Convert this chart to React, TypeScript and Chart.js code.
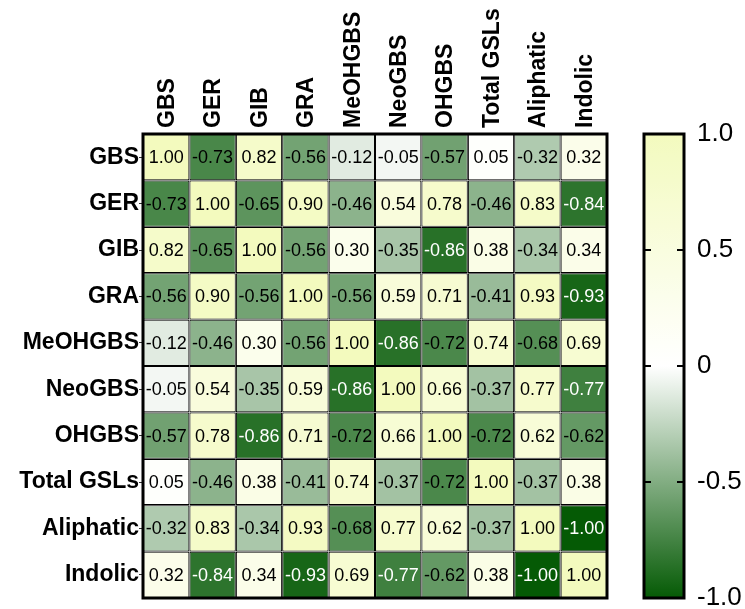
import React, { useEffect, useRef } from "react";
import { Chart, registerables } from "chart.js";

Chart.register(...registerables);

const variables = ["GBS", "GER", "GIB", "GRA", "MeOHGBS", "NeoGBS", "OHGBS", "Total GSLs", "Aliphatic", "Indolic"];

const rowGBS = [1.0, -0.73, 0.82, -0.56, -0.12, -0.05, -0.57, 0.05, -0.32, 0.32];
const rowGER = [-0.73, 1.0, -0.65, 0.9, -0.46, 0.54, 0.78, -0.46, 0.83, -0.84];
const rowGIB = [0.82, -0.65, 1.0, -0.56, 0.3, -0.35, -0.86, 0.38, -0.34, 0.34];
const rowGRA = [-0.56, 0.9, -0.56, 1.0, -0.56, 0.59, 0.71, -0.41, 0.93, -0.93];
const rowMeOHGBS = [-0.12, -0.46, 0.3, -0.56, 1.0, -0.86, -0.72, 0.74, -0.68, 0.69];
const rowNeoGBS = [-0.05, 0.54, -0.35, 0.59, -0.86, 1.0, 0.66, -0.37, 0.77, -0.77];
const rowOHGBS = [-0.57, 0.78, -0.86, 0.71, -0.72, 0.66, 1.0, -0.72, 0.62, -0.62];
const rowTotal = [0.05, -0.46, 0.38, -0.41, 0.74, -0.37, -0.72, 1.0, -0.37, 0.38];
const rowAliphatic = [-0.32, 0.83, -0.34, 0.93, -0.68, 0.77, 0.62, -0.37, 1.0, -1.0];
const rowIndolic = [0.32, -0.84, 0.34, -0.93, 0.69, -0.77, -0.62, 0.38, -1.0, 1.0];

const matrixRows = [rowGBS, rowGER, rowGIB, rowGRA, rowMeOHGBS, rowNeoGBS, rowOHGBS, rowTotal, rowAliphatic, rowIndolic];

const colorbarTicks = [-1, -0.5, 0, 0.5, 1];
const colorbarTickLabels = ["-1.0", "-0.5", "0", "0.5", "1.0"];

const FONT = "Arial, 'Liberation Sans', Helvetica, sans-serif";
const POS = [243, 250, 190];
const NEG = [5, 90, 5];

function colorFor(v: number): string {
  const t = Math.min(1, Math.abs(v));
  const c = v >= 0 ? POS : NEG;
  const r = Math.round(255 + (c[0] - 255) * t);
  const g = Math.round(255 + (c[1] - 255) * t);
  const b = Math.round(255 + (c[2] - 255) * t);
  return `rgb(${r},${g},${b})`;
}

const heatPlugin = {
  id: "heatDecor",
  afterDatasetsDraw(chart: any) {
    const ctx = chart.ctx;
    const area = chart.chartArea;
    ctx.save();
    // cell values
    ctx.font = `18px ${FONT}`;
    ctx.textAlign = "center";
    ctx.textBaseline = "middle";
    matrixRows.forEach((row, i) => {
      const meta = chart.getDatasetMeta(i);
      row.forEach((v, j) => {
        const el = meta.data[j];
        if (!el) return;
        const p = el.getCenterPoint();
        ctx.fillStyle = v < -0.75 ? "#ffffff" : "#000000";
        ctx.fillText(v.toFixed(2), p.x, p.y + 1);
      });
    });
    // outer border
    ctx.strokeStyle = "#000";
    ctx.lineWidth = 3;
    ctx.strokeRect(area.left, area.top, area.right - area.left, area.bottom - area.top);

    // colorbar
    const cb = chart.scales.cb;
    const x0 = area.right + 37;
    const x1 = area.right + 77;
    const yTop = cb.getPixelForValue(1);
    const yBot = cb.getPixelForValue(-1);
    const grad = ctx.createLinearGradient(0, yTop, 0, yBot);
    const steps = 20;
    for (let k = 0; k <= steps; k++) {
      const v = 1 - (2 * k) / steps;
      grad.addColorStop(k / steps, colorFor(v));
    }
    ctx.fillStyle = grad;
    ctx.fillRect(x0, yTop, x1 - x0, yBot - yTop);
    ctx.lineWidth = 3;
    ctx.strokeStyle = "#000";
    ctx.strokeRect(x0, yTop, x1 - x0, yBot - yTop);
    ctx.lineWidth = 2;
    colorbarTicks.forEach((t) => {
      if (Math.abs(t) === 1) return;
      const y = cb.getPixelForValue(t);
      ctx.beginPath();
      ctx.moveTo(x0, y);
      ctx.lineTo(x0 + 7, y);
      ctx.moveTo(x1 - 7, y);
      ctx.lineTo(x1, y);
      ctx.stroke();
    });
    ctx.restore();
  },
};

export default function App() {
  const ref = useRef<HTMLCanvasElement | null>(null);
  useEffect(() => {
    if (!ref.current) return;
    const datasets = matrixRows.map((row, i) => ({
      label: variables[i],
      data: row.map(() => 1),
      backgroundColor: row.map((v) => colorFor(v)),
      borderColor: "#000",
      borderWidth: 1.1,
      borderSkipped: false,
      inflateAmount: 0,
      barPercentage: 1,
      categoryPercentage: 1,
    }));
    const zeroPad = (s: any) => {
      s.paddingTop = 0;
      s.paddingBottom = 0;
      s.paddingLeft = 0;
      s.paddingRight = 0;
    };
    const chart = new Chart(ref.current, {
      type: "bar",
      data: { labels: variables, datasets: datasets as any },
      plugins: [heatPlugin],
      options: {
        animation: false,
        responsive: false,
        events: [],
        layout: { padding: { left: 0, right: 0, top: 0, bottom: 11 } },
        plugins: { legend: { display: false }, tooltip: { enabled: false } },
        scales: {
          x: {
            type: "category",
            position: "top",
            stacked: true,
            offset: true,
            grid: { display: false, drawTicks: false },
            border: { display: false },
            ticks: {
              color: "#000",
              font: { family: FONT, size: 23, weight: "bold" },
              minRotation: 90,
              maxRotation: 90,
              autoSkip: false,
              padding: 6,
              labelOffset: 29,
            },
            afterFit: (s: any) => {
              s.height = 134;
              zeroPad(s);
            },
          },
          y: {
            type: "linear",
            position: "left",
            stacked: true,
            reverse: true,
            min: 0,
            max: variables.length,
            grid: { display: true, drawOnChartArea: false, drawTicks: true, tickLength: 4, color: "#333", lineWidth: 1 },
            border: { display: false },
            afterBuildTicks: (s: any) => {
              s.ticks = variables.map((_, i) => ({ value: i + 0.5 }));
            },
            ticks: {
              color: "#000",
              font: { family: FONT, size: 23, weight: "bold" },
              autoSkip: false,
              padding: 0,
              callback: (v: any) => variables[Math.floor(Number(v))] ?? "",
            },
            afterFit: (s: any) => {
              s.width = 143;
              zeroPad(s);
            },
          },
          cb: {
            type: "linear",
            position: "right",
            min: -1,
            max: 1,
            grid: { display: false, drawTicks: false },
            border: { display: false },
            afterBuildTicks: (s: any) => {
              s.ticks = colorbarTicks.map((t) => ({ value: t }));
            },
            ticks: {
              color: "#000",
              font: { family: FONT, size: 26 },
              padding: 90,
              autoSkip: false,
              callback: (v: any) => {
                const idx = colorbarTicks.findIndex((t) => Math.abs(t - Number(v)) < 1e-9);
                return idx >= 0 ? colorbarTickLabels[idx] : "";
              },
            },
            afterFit: (s: any) => {
              s.width = 138;
              zeroPad(s);
            },
          },
        },
      } as any,
    });
    return () => chart.destroy();
  }, []);

  return (
    <div style={{ position: "fixed", left: 0, top: 0, width: 745, height: 609, background: "#fff" }}>
      <canvas ref={ref} width={745} height={609} style={{ display: "block", width: 745, height: 609 }} />
    </div>
  );
}
